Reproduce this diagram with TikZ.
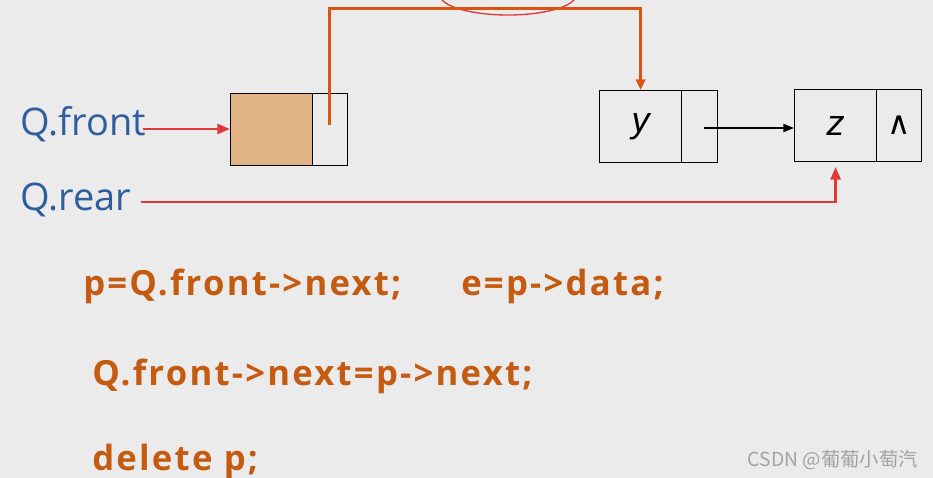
\documentclass[tikz,border=0pt]{standalone}
\usepackage{fontspec}
\setmainfont{Open Sans}
\newfontfamily\labfont{Open Sans}
\newfontfamily\codefont[LetterSpace=6.5]{Open Sans Bold}
\newfontfamily\varfont{Liberation Sans}
\newfontfamily\symfont{DejaVu Sans}
\newfontfamily\cjk{Noto Sans CJK SC}
\usetikzlibrary{arrows.meta}
\definecolor{bg}{HTML}{EBEBEB}
\definecolor{qblue}{HTML}{2F5E9E}
\definecolor{codeor}{HTML}{C55A11}
\definecolor{cellfill}{HTML}{E2B385}
\definecolor{ptrorange}{HTML}{DC5510}
\definecolor{ptrred}{HTML}{E0393C}
\definecolor{wm}{HTML}{A3A3A3}
\tikzset{
  cell/.style={draw=black, line width=0.9pt, inner sep=0pt, minimum height=54pt, anchor=north west},
  qlabel/.style={anchor=base west, inner sep=0pt, text=qblue, font=\labfont\fontsize{28.5pt}{30pt}\selectfont},
  code/.style={anchor=base west, inner sep=0pt, text=codeor, font=\codefont\fontsize{26pt}{28pt}\selectfont},
  var/.style={inner sep=0pt, font=\varfont\itshape\fontsize{27pt}{29pt}\selectfont},
  redline/.style={draw=ptrred, line width=2pt},
  orangeline/.style={draw=ptrorange, line width=2.25pt},
  redtip/.style={-{Triangle[length=9.5pt,width=7.5pt]}},
}
\begin{document}
\begin{tikzpicture}[x=0.75pt, y=-0.75pt]
\useasboundingbox (0,0) rectangle (933,478);
\fill[bg] (0,0) rectangle (933,478);
% ellipse mark at top
\draw[ptrred, line width=1pt] (508,-5) ellipse [x radius=68, y radius=20];
% nodes
\node[cell, fill=cellfill, minimum width=61.5pt] (f1) at (230,93) {};
\node[cell, minimum width=26.25pt] (f2) at (312,93) {};
\node[cell, minimum width=61.5pt] (y1) at (599,90) {};
\node[cell, minimum width=27pt] (y2) at (681,90) {};
\node[cell, minimum width=61.5pt] (z1) at (794,89) {};
\node[cell, minimum width=33.75pt] (z2) at (876,89) {};
\node[var] (ytxt) at (y1.center) {y};
\node[var] (ztxt) at (z1.center) {z};
\node[inner sep=0pt, font=\symfont\fontsize{24pt}{26pt}\selectfont] (nil) at (z2.center) {∧};
% labels
\node[qlabel] (qf) at (20,136) {Q.front};
\node[qlabel] (qr) at (20,210) {Q.rear};
% connectors
\coordinate (fs) at (143,129);
\draw[redline, redtip] (fs) -- (f1.west |- fs);
\coordinate (rs) at (141,202);
\draw[redline, redtip, shorten >=3.5pt] (rs) -| (z1.south);
\coordinate (o1) at (329,125);
\coordinate (o2) at (329,9);
\draw[orangeline, -{Triangle[length=8pt,width=7pt]}] (o1) -- (o2) -- (o2 -| y1.north) -- (y1.north);
\coordinate (bs) at (704,128);
\draw[black, line width=1.4pt, -{Triangle[length=8pt,width=6pt]}] (bs) -- (bs -| z1.west);
% code
\node[code] (c1) at (83,295) {p=Q.front->next;};
\node[code] (c2) at (461,295) {e=p->data;};
\node[code] (c3) at (92,385) {Q.front->next=p->next;};
\node[code] (c4) at (92,470) {delete p;};
% watermark
\node[anchor=base east, inner sep=0pt, text=wm, font=\cjk\fontsize{14.5pt}{16pt}\selectfont] (wmk) at (918,466) {CSDN @葡葡小萄汽};
\end{tikzpicture}
\end{document}
